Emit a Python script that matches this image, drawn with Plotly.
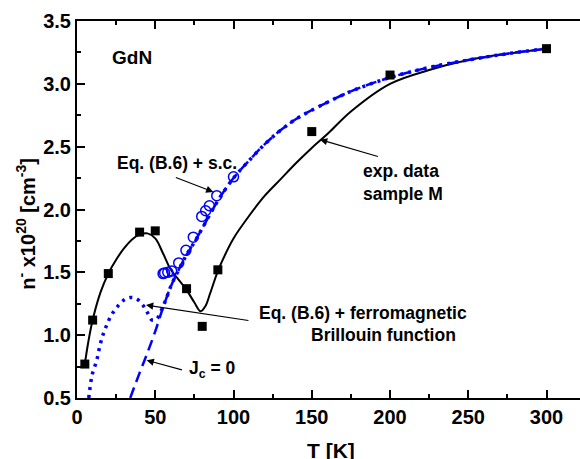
import plotly.graph_objects as go

# Experimental data (sample M)
exp_T = [5, 10, 20, 40, 50, 70, 80, 90, 150, 200, 300]
exp_n = [0.77, 1.12, 1.49, 1.82, 1.83, 1.37, 1.07, 1.52, 2.62, 3.07, 3.28]

# Black fit curve through the experimental data
fit_T = [5, 7, 10, 15, 20, 25, 30, 35, 40, 45, 50, 55, 60, 65, 70, 75, 79, 82, 85, 90,
         95, 100, 110, 120, 130, 140, 150, 160, 175, 200, 225, 250, 275, 300]
fit_n = [0.77, 0.93, 1.12, 1.34, 1.49, 1.60, 1.69, 1.76, 1.80, 1.81, 1.77, 1.65, 1.52, 1.44,
         1.36, 1.26, 1.19, 1.23, 1.33, 1.51, 1.65, 1.77, 1.95, 2.11, 2.24, 2.37, 2.49, 2.60,
         2.78, 3.00, 3.11, 3.19, 3.24, 3.28]

# Eq. (B.6) + ferromagnetic Brillouin function (dotted)
bri_T = [7.5, 9, 10, 12.6, 14.7, 16.8, 19, 22, 26, 30, 34, 38, 42, 45, 48, 51, 54, 57, 60,
         65, 70, 75, 80, 90, 100, 110, 120, 130, 140, 150, 175, 200, 225, 250, 275, 300]
bri_n = [0.5, 0.64, 0.70, 0.80, 0.92, 1.01, 1.08, 1.16, 1.23, 1.28, 1.30, 1.29, 1.24, 1.18,
         1.12, 1.13, 1.20, 1.29, 1.39, 1.52, 1.64, 1.74, 1.85, 2.07, 2.25, 2.39, 2.52, 2.63,
         2.72, 2.79, 2.94, 3.05, 3.13, 3.19, 3.24, 3.28]

# J_c = 0 (dashed)
jc_T = [34, 40, 45, 50, 55, 60, 65, 70, 75, 80, 90, 100, 110, 120, 130, 140, 150, 175,
        200, 225, 250, 275, 300]
jc_n = [0.5, 0.70, 0.86, 1.03, 1.22, 1.39, 1.52, 1.64, 1.74, 1.85, 2.07, 2.25, 2.39, 2.52,
        2.63, 2.72, 2.79, 2.94, 3.05, 3.13, 3.19, 3.24, 3.28]

# Eq. (B.6) + s.c. (open circles)
sc_T = [55, 56, 58, 60.5, 65, 69.6, 74.3, 79.7, 82.2, 84.6, 89.3, 100]
sc_n = [1.49, 1.495, 1.50, 1.51, 1.575, 1.675, 1.78, 1.945, 1.99, 2.03, 2.11, 2.26]

BLUE = "#0000ff"
FONT = "Arial, Liberation Sans, sans-serif"

fig = go.Figure()
fig.add_trace(go.Scatter(x=fit_T, y=fit_n, mode="lines", line=dict(color="black", width=2, shape="spline"),
                         showlegend=False, hoverinfo="skip"))
fig.add_trace(go.Scatter(x=jc_T, y=jc_n, mode="lines",
                         line=dict(color=BLUE, width=2.5, dash="11px,6px", shape="spline"),
                         showlegend=False))
fig.add_trace(go.Scatter(x=bri_T, y=bri_n, mode="lines",
                         line=dict(color=BLUE, width=3.5, dash="3px,5px", shape="spline"),
                         showlegend=False))
fig.add_trace(go.Scatter(x=sc_T, y=sc_n, mode="markers",
                         marker=dict(symbol="circle-open", size=10, color=BLUE, line=dict(width=1.5, color=BLUE)),
                         showlegend=False))
fig.add_trace(go.Scatter(x=exp_T, y=exp_n, mode="markers",
                         marker=dict(symbol="square", size=9, color="black"),
                         showlegend=False))

txt = dict(family=FONT, size=17.5, color="black", weight="bold")
ann = []
ann.append(dict(x=21.1, y=3.211, xref="x", yref="y", text="GdN", showarrow=False,
                xanchor="left", yanchor="middle", font=dict(family=FONT, size=19, color="black", weight="bold")))
ann.append(dict(x=63.6, y=2.368, xref="x", yref="y", text="Eq. (B.6) + s.c.", showarrow=False,
                xanchor="center", yanchor="middle", font=txt))
ann.append(dict(x=181.5, y=2.215, xref="x", yref="y", text="exp. data<br>sample M", showarrow=False,
                xanchor="left", yanchor="middle", align="left", font=txt))
ann.append(dict(x=115, y=1.177, xref="x", yref="y", text="Eq. (B.6) + ferromagnetic", showarrow=False,
                xanchor="left", yanchor="middle", font=txt))
ann.append(dict(x=148.2, y=0.999, xref="x", yref="y", text="Brillouin function", showarrow=False,
                xanchor="left", yanchor="middle", font=txt))
ann.append(dict(x=70.5, y=0.73, xref="x", yref="y", text="J<sub>c</sub> = 0", showarrow=False,
                xanchor="left", yanchor="middle", font=txt))

arrows = [((87.1, 2.14), (62.2, 2.259)),
          ((155.3, 2.556), (193.2, 2.418)),
          ((44.1, 1.24), (110.5, 1.115)),
          ((44.5, 0.80), (68, 0.72))]
for (hx, hy), (tx, ty) in arrows:
    ann.append(dict(x=hx, y=hy, ax=tx, ay=ty, xref="x", yref="y", axref="x", ayref="y",
                    text="", showarrow=True, arrowhead=2, arrowsize=1.2, arrowwidth=1.2,
                    arrowcolor="black"))

# axis titles as annotations for exact placement
ann.append(dict(x=0, y=1.887, xref="paper", yref="y", xshift=-51,
                text="n<sup>-</sup> x10<sup>20</sup> [cm<sup>-3</sup>]", textangle=-90,
                showarrow=False, xanchor="center", yanchor="middle",
                font=dict(family=FONT, size=20, color="black", weight="bold")))
ann.append(dict(x=162, y=0, xref="x", yref="paper", yshift=-39,
                text="T [K]", showarrow=False, xanchor="center", yanchor="top",
                font=dict(family=FONT, size=21, color="black", weight="bold")))

axis_common = dict(showline=True, linewidth=2, linecolor="black",
                   ticks="inside", ticklen=8, tickwidth=2, tickcolor="black",
                   showgrid=False, zeroline=False, automargin=False,
                   tickfont=dict(family=FONT, size=20, color="black", weight="bold"))

# figure is a little wider than the window; the plot's right edge falls outside the view
fig.update_layout(
    width=588, height=459,
    margin=dict(l=77, r=0, t=21, b=61),
    paper_bgcolor="white", plot_bgcolor="white",
    xaxis=dict(range=[0, 326.5], dtick=50, tick0=0, mirror="ticks",
               minor=dict(dtick=25, ticks="inside", ticklen=4, tickwidth=2, tickcolor="black"),
               **axis_common),
    yaxis=dict(range=[0.5, 3.5], dtick=0.5, tick0=0.5, tickformat=".1f", mirror=False,
               minor=dict(dtick=0.25, ticks="inside", ticklen=4, tickwidth=2, tickcolor="black"),
               **axis_common),
    annotations=ann,
)

fig.write_html("out.html", config={"displayModeBar": False},
               post_script="document.body.style.margin='0';document.body.style.overflow='hidden';")
